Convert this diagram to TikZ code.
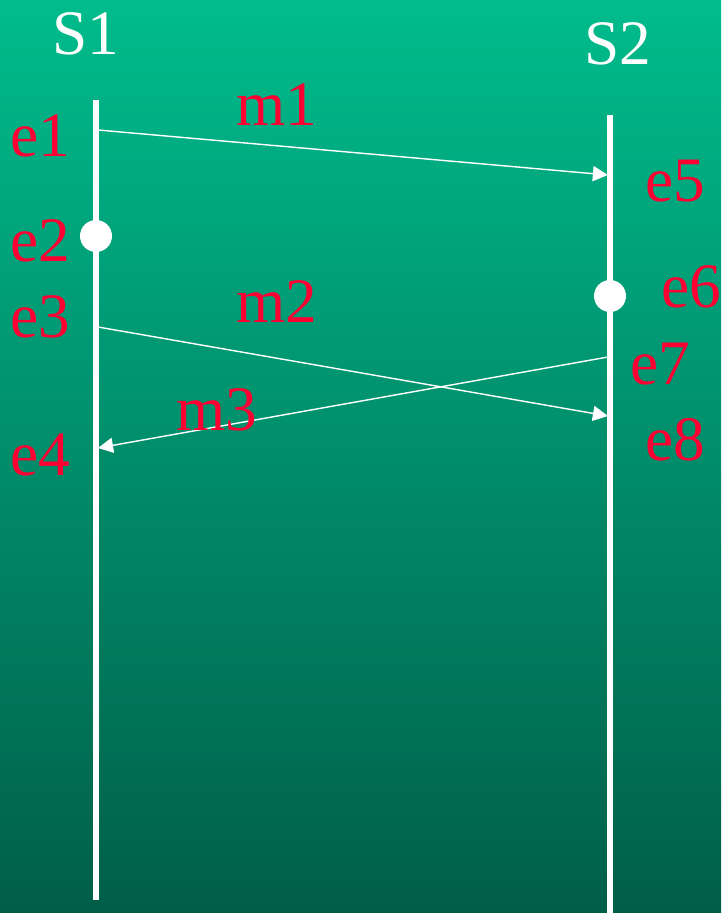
\documentclass[tikz,border=0pt]{standalone}
\usepackage{fontspec}
\setmainfont{Liberation Serif}
\usetikzlibrary{arrows.meta}
\definecolor{bgtop}{RGB}{0,188,140}
\definecolor{bgbot}{RGB}{0,94,72}
\definecolor{evred}{RGB}{255,0,51}

\begin{document}
\begin{tikzpicture}[x=0.01cm, y=-0.01cm, >={Triangle[length=4.3pt,width=4.3pt]},
  lbl/.style={inner sep=0pt, anchor=base west, font=\fontsize{18}{20}\selectfont},
  proclbl/.style={lbl, text=white},
  ev/.style={lbl, text=evred},
  procline/.style={white, line width=1.45pt},
  msg/.style={->, white, line width=0.4pt},
  dot/.style={circle, fill=white, inner sep=0pt, minimum size=9.1pt}]
  % background
  \shade[top color=bgtop, bottom color=bgbot] (0,0) rectangle (721,913);
  \useasboundingbox (0,0) rectangle (721,913);

  % process lines
  \coordinate (s1top) at (96,100);
  \coordinate (s1bot) at (96,900);
  \coordinate (s2top) at (610,115);
  \coordinate (s2bot) at (610,913);
  \draw[procline] (s1top) -- (s1bot);
  \draw[procline] (s2top) -- (s2bot);
  \node[proclbl] (S1) at (52,55) {S1};
  \node[proclbl] (S2) at (584,65) {S2};

  % events
  \coordinate (e1) at (98,130);
  \coordinate (e3) at (98,327);
  \coordinate (e4) at (98,448);
  \coordinate (e5) at (608,175);
  \coordinate (e7) at (608,357);
  \coordinate (e8) at (608,416);
  \node[dot] (e2) at (96,236) {};
  \node[dot] (e6) at (610,296) {};

  % messages
  \draw[msg] (e1) -- (e5);
  \draw[msg] (e3) -- (e8);
  \draw[msg] (e7) -- (e4);

  % labels
  \node[ev] (l1) at (10,157) {e1};
  \node[ev] (l2) at (10,262) {e2};
  \node[ev] (l3) at (10,338) {e3};
  \node[ev] (l4) at (10,475) {e4};
  \node[ev] (l5) at (645,202) {e5};
  \node[ev] (l6) at (661,308) {e6};
  \node[ev] (l7) at (630,385) {e7};
  \node[ev] (l8) at (645,460) {e8};
  \node[ev] (m1) at (236,126) {m1};
  \node[ev] (m2) at (236,323) {m2};
  \node[ev] (m3) at (176,430) {m3};
\end{tikzpicture}
\end{document}
